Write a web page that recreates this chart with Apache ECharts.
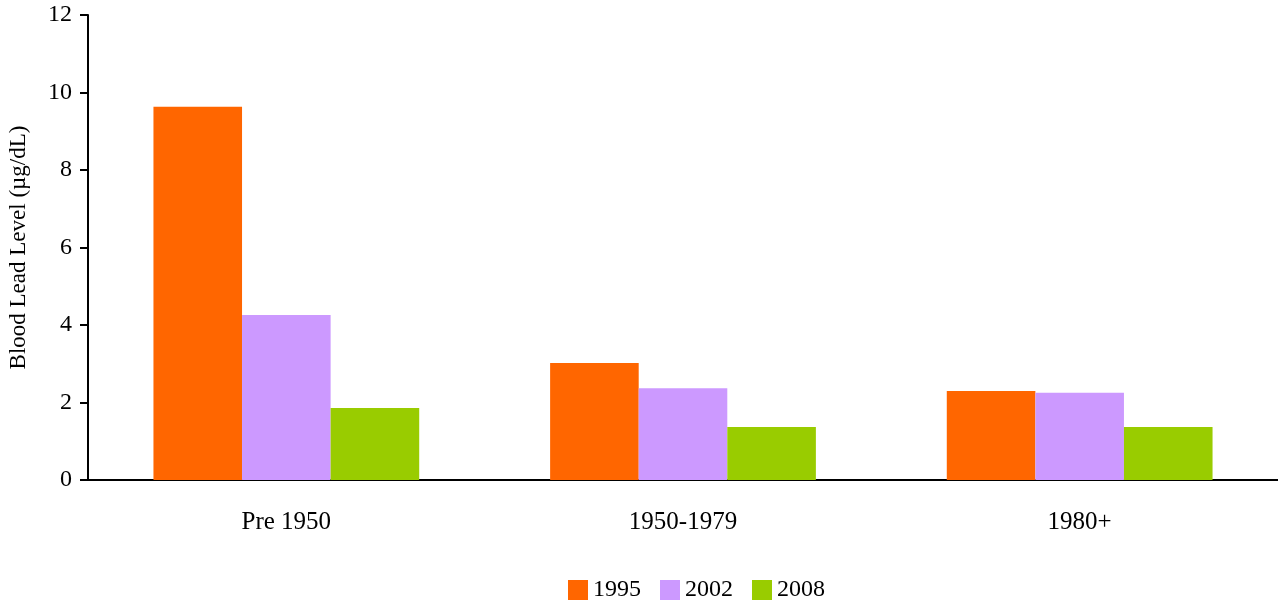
<!DOCTYPE html>
<html>
<head>
<meta charset="utf-8">
<script src="https://cdn.jsdelivr.net/npm/echarts@6/dist/echarts.min.js"></script>
<style>html,body{margin:0;padding:0;background:#fff}#c{width:1278px;height:601px}</style>
</head>
<body>
<div id="c"></div>
<script>
var categories = ['Pre 1950', '1950-1979', '1980+'];
var seriesNames = ['1995', '2002', '2008'];
var v1995 = [9.63, 3.02, 2.30];
var v2002 = [4.26, 2.37, 2.25];
var v2008 = [1.86, 1.37, 1.37];
var colors = ['#FF6600', '#CC99FF', '#99CC00'];
var values = [v1995, v2002, v2008];
var font = '"Liberation Serif", "Times New Roman", serif';
var chart = echarts.init(document.getElementById('c'));
chart.setOption({
  animation: false,
  textStyle: { fontFamily: font },
  grid: { left: 88, right: 0, top: 15, bottom: 121, containLabel: false, outerBoundsMode: 'none' },
  legend: {
    top: 573, left: 563,
    itemWidth: 20, itemHeight: 20, itemGap: 19, icon: 'rect',
    textStyle: { fontFamily: font, fontSize: 24, color: '#000' },
    data: seriesNames
  },
  xAxis: {
    type: 'category', data: categories,
    axisLine: { lineStyle: { color: '#000', width: 2 } },
    axisTick: { show: false },
    axisLabel: { color: '#000', fontSize: 25, fontFamily: font, margin: 30 }
  },
  yAxis: {
    type: 'value', min: 0, max: 12, interval: 2,
    name: 'Blood Lead Level (µg/dL)', nameLocation: 'middle', nameGap: 58,
    nameTextStyle: { color: '#000', fontSize: 23, fontFamily: font },
    axisLine: { show: true, lineStyle: { color: '#000', width: 2 } },
    axisTick: { show: true, length: 8, lineStyle: { color: '#000', width: 2 } },
    axisLabel: { color: '#000', fontSize: 24, fontFamily: font, margin: 16 },
    splitLine: { show: false }
  },
  series: seriesNames.map(function (n, i) {
    return {
      name: n, type: 'bar', data: values[i],
      itemStyle: { color: colors[i] },
      barGap: '0%', barCategoryGap: '33%'
    };
  })
});
</script>
</body>
</html>
